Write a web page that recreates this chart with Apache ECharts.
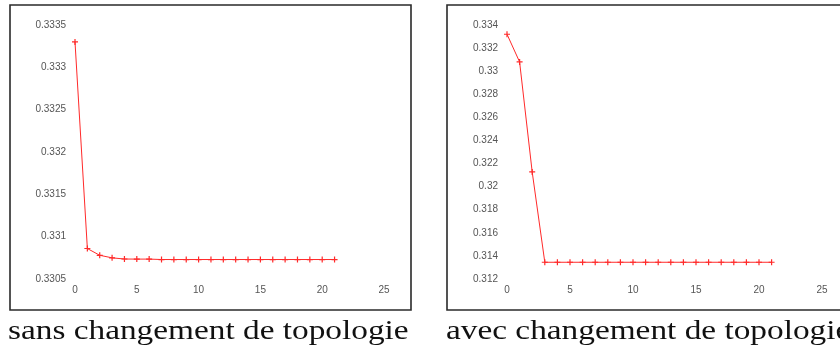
<!DOCTYPE html>
<html>
<head>
<meta charset="utf-8">
<script src="https://cdn.jsdelivr.net/npm/echarts@6/dist/echarts.min.js"></script>
<style>
html,body{margin:0;padding:0;background:#fff;}
#main{width:840px;height:354px;}
</style>
</head>
<body>
<div id="main"></div>
<script>
// ---- data ----
var iterations = [0,1,2,3,4,5,6,7,8,9,10,11,12,13,14,15,16,17,18,19,20,21];
var sansValues = [0.3333,0.33086,0.33078,0.33075,0.330736,0.330735,0.330735,0.33073,0.33073,0.33073,0.33073,0.33073,0.33073,0.33073,0.33073,0.33073,0.33073,0.33073,0.33073,0.33073,0.33073,0.33073];
var avecValues = [0.3332,0.3308,0.32127,0.31345,0.31345,0.31345,0.31345,0.31345,0.31345,0.31345,0.31345,0.31345,0.31345,0.31345,0.31345,0.31345,0.31345,0.31345,0.31345,0.31345,0.31345,0.31345];
var xTicks = [0,5,10,15,20,25];
var leftYTicks = [0.3305,0.331,0.3315,0.332,0.3325,0.333,0.3335];
var rightYTicks = [0.312,0.314,0.316,0.318,0.32,0.322,0.324,0.326,0.328,0.33,0.332,0.334];
var captions = ['sans changement de topologie','avec changement de topologie'];

function pairs(xs, ys){ return xs.map(function(x,i){ return [x, ys[i]]; }); }
function fmt(v){ return String(parseFloat(v.toFixed(6))); }

var plusPath = 'path://M4,0L6,0L6,4L10,4L10,6L6,6L6,10L4,10L4,6L0,6L0,4L4,4Z';
var labelStyle = {color:'#555', fontSize:10, fontFamily:'Liberation Sans, Arial, sans-serif'};

function xAxis(gi){
  return {type:'value', gridIndex:gi, min:xTicks[0], max:xTicks[xTicks.length-1], interval:xTicks[1]-xTicks[0],
    axisLine:{show:false}, axisTick:{show:false}, splitLine:{show:false},
    axisLabel:Object.assign({margin:6, formatter:fmt}, labelStyle)};
}
function yAxis(gi, ticks){
  return {type:'value', gridIndex:gi, min:ticks[0], max:ticks[ticks.length-1], interval:ticks[1]-ticks[0],
    axisLine:{show:false}, axisTick:{show:false}, splitLine:{show:false},
    axisLabel:Object.assign({margin:9, formatter:fmt}, labelStyle)};
}
function series(gi, ys){
  return {type:'line', xAxisIndex:gi, yAxisIndex:gi, data:pairs(iterations, ys),
    symbol:plusPath, symbolSize:6, showSymbol:true, animation:false,
    lineStyle:{color:'#ff2a2a', width:1}, itemStyle:{color:'#ff2a2a'}};
}

var captionFont = '28px "Liberation Serif", "DejaVu Serif", serif';
var chart = echarts.init(document.getElementById('main'), null, {renderer:'canvas'});
chart.setOption({
  animation:false,
  backgroundColor:'#fff',
  grid:[
    {left:75, top:25, width:309, height:254},
    {left:507, top:25, width:315, height:254}
  ],
  xAxis:[xAxis(0), xAxis(1)],
  yAxis:[yAxis(0, leftYTicks), yAxis(1, rightYTicks)],
  series:[series(0, sansValues), series(1, avecValues)],
  graphic:[
    {type:'rect', shape:{x:10, y:5, width:401, height:305}, style:{fill:'none', stroke:'#2a2a2a', lineWidth:1.6}, silent:true},
    {type:'rect', shape:{x:447, y:5, width:420, height:305}, style:{fill:'none', stroke:'#2a2a2a', lineWidth:1.6}, silent:true},
    {type:'text', x:8, y:318, scaleX:1.19, style:{text:captions[0], fill:'#111', font:captionFont}},
    {type:'text', x:446, y:318, scaleX:1.19, style:{text:captions[1], fill:'#111', font:captionFont}}
  ]
});
</script>
</body>
</html>
